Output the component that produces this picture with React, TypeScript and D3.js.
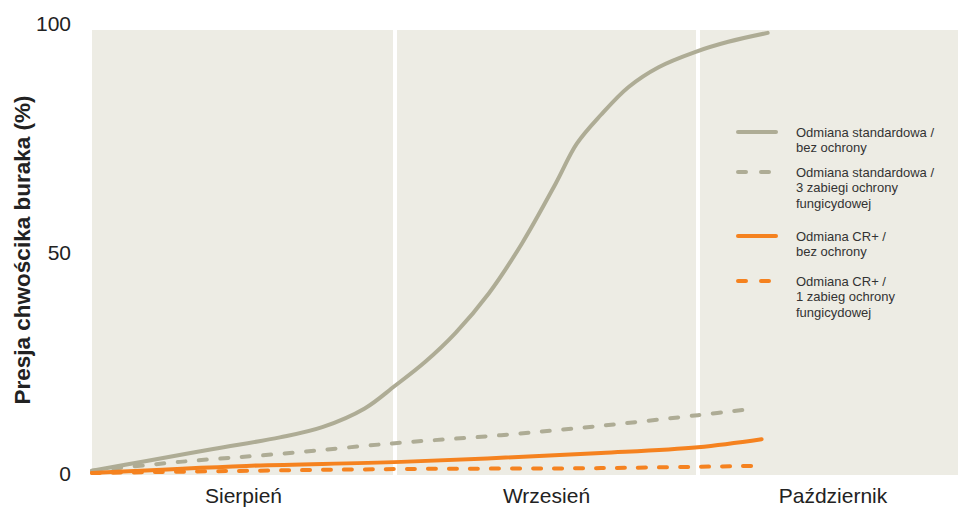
import React from "react";
import * as d3 from "d3";

// month index (0 = start of August) and pressure (%)
const months = ["Sierpień", "Wrzesień", "Październik"];
const yTicks = [0, 50, 100];

const stdNoProtX = [0, 0.18, 0.4, 0.62, 0.76, 0.9, 1.0, 1.1, 1.2, 1.31, 1.42, 1.53, 1.6, 1.68, 1.77, 1.87, 1.99, 2.1, 2.23];
const stdNoProtY = [0.5, 2.7, 5.4, 8.0, 10.3, 14.5, 19.6, 25, 31.5, 40.4, 51.7, 65, 74, 80.5, 86.7, 91.2, 94.6, 96.9, 98.9];

const std3X = [0, 0.29, 0.62, 1.0, 1.35, 1.68, 2.0, 2.18];
const std3Y = [0.5, 2.5, 4.3, 6.7, 8.5, 10.6, 13, 14.4];

const crNoProtX = [0, 0.51, 1.02, 1.68, 2.0, 2.21];
const crNoProtY = [0, 1.6, 2.5, 4.5, 5.8, 7.6];

const cr1X = [0, 0.52, 1.04, 1.68, 2.18];
const cr1Y = [0, 0.5, 0.9, 1.1, 1.6];

const legendLabels = [
  ["Odmiana standardowa /", "bez ochrony"],
  ["Odmiana standardowa /", "3 zabiegi ochrony", "fungicydowej"],
  ["Odmiana CR+ /", "bez ochrony"],
  ["Odmiana CR+ /", "1 zabieg ochrony", "fungicydowej"],
];

const GREY = "#aeac95";
const ORANGE = "#f5821f";
const BG = "#edece4";

export default function App() {
  const W = 958, H = 507;
  const plotLeft = 92, plotRight = 968, plotTop = 30, plotBottom = 475;
  const x = d3.scaleLinear().domain([0, 1]).range([plotLeft, plotLeft + 303]);
  const y = d3.scaleLinear().domain([0, 100]).range([473, 28]);

  const line = d3
    .line<[number, number]>()
    .x((d) => x(d[0]))
    .y((d) => y(d[1]))
    .curve(d3.curveCatmullRom.alpha(0.5));

  const zip = (a: number[], b: number[]) => a.map((v, i) => [v, b[i]] as [number, number]);

  const series = [
    { d: zip(stdNoProtX, stdNoProtY), color: GREY, dash: null as string | null },
    { d: zip(std3X, std3Y), color: GREY, dash: "8 13.5" },
    { d: zip(crNoProtX, crNoProtY), color: ORANGE, dash: null },
    { d: zip(cr1X, cr1Y), color: ORANGE, dash: "8 13" },
  ];

  const legendY = [132, 172, 236, 281];
  const font = "'Liberation Sans', Arial, Helvetica, sans-serif";

  return (
    <svg width={W} height={H} style={{ position: "absolute", left: 0, top: 0 }} fontFamily={font}>
      <rect x={plotLeft} y={plotTop} width={plotRight - plotLeft} height={plotBottom - plotTop} fill={BG} />
      {[1, 2].map((m) => (
        <line key={m} x1={x(m)} x2={x(m)} y1={plotTop} y2={plotBottom} stroke="#fff" strokeWidth={4} />
      ))}
      {series.map((s, i) => (
        <path
          key={i}
          d={line(s.d) || ""}
          fill="none"
          stroke={s.color}
          strokeWidth={4}
          strokeLinecap="round"
          strokeDasharray={s.dash || undefined}
        />
      ))}
      {yTicks.map((t) => (
        <text key={t} x={71} y={y(t) + (t === 100 ? -5 : t === 0 ? 0 : 2)} textAnchor="end" dominantBaseline="central" fontSize={21} fill="#222">
          {t}
        </text>
      ))}
      {months.map((m, i) => {
        const a = x(i), b = Math.min(x(i + 1), plotRight);
        return (
          <text key={m} x={(a + b) / 2} y={503} textAnchor="middle" fontSize={21} fill="#222">
            {m}
          </text>
        );
      })}
      <text
        transform={`translate(30,250) rotate(-90)`}
        textAnchor="middle"
        fontSize={22.5}
        fontWeight="bold"
        fill="#222"
      >
        Presja chwościka buraka (%)
      </text>
      {legendLabels.map((lines, i) => (
        <g key={i}>
          <line
            x1={738}
            x2={776}
            y1={legendY[i]}
            y2={legendY[i]}
            stroke={i < 2 ? GREY : ORANGE}
            strokeWidth={4}
            strokeLinecap="round"
            strokeDasharray={i % 2 === 1 ? "8 15" : undefined}
          />
          {lines.map((l, j) => (
            <text key={j} x={796} y={legendY[i] + j * 15.5} dominantBaseline="central" fontSize={13} fill="#333">
              {l}
            </text>
          ))}
        </g>
      ))}
    </svg>
  );
}
